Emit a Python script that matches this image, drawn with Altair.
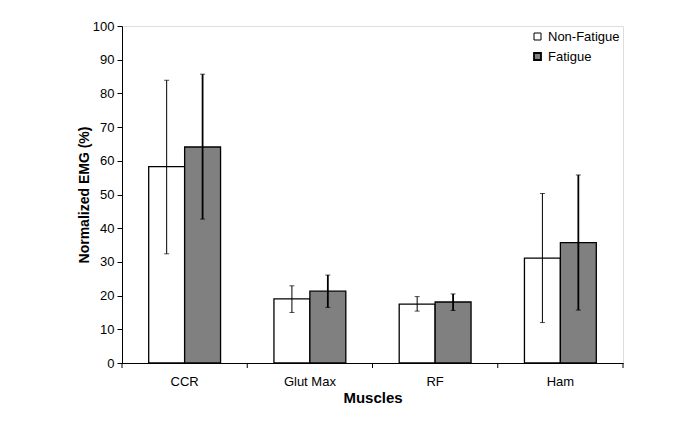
import altair as alt
import pandas as pd

muscles = ["CCR", "Glut Max", "RF", "Ham"]
series = ["Non-Fatigue", "Fatigue"]
non_fatigue = [58.3, 19.0, 17.5, 31.1]
non_fatigue_lo = [32.4, 15.0, 15.4, 12.0]
non_fatigue_hi = [83.9, 22.9, 19.7, 50.3]
fatigue = [64.1, 21.3, 18.1, 35.7]
fatigue_lo = [42.7, 16.5, 15.6, 15.7]
fatigue_hi = [85.7, 26.1, 20.5, 55.8]

rows = []
for i, m in enumerate(muscles):
    rows.append(dict(Muscle=m, Series=series[0], value=non_fatigue[i], lo=non_fatigue_lo[i], hi=non_fatigue_hi[i]))
    rows.append(dict(Muscle=m, Series=series[1], value=fatigue[i], lo=fatigue_lo[i], hi=fatigue_hi[i]))
df = pd.DataFrame(rows)

FONT = "Liberation Sans"
W, H = 501, 337

xscale = alt.Scale(domain=muscles, paddingInner=0, paddingOuter=0)
offscale = alt.Scale(domain=series, paddingInner=0, paddingOuter=0.743)
yscale = alt.Scale(domain=[0, 100], nice=False)

xaxis = alt.Axis(title="Muscles", labelAngle=0, ticks=False, labelPadding=12, labelFontSize=13,
                 labelFont=FONT, titleFont=FONT, titlePadding=2, titleFontSize=15,
                 titleFontWeight="bold", labelColor="black", titleColor="black",
                 domainColor="black", labelOverlap=False)
yaxis = alt.Axis(title="Normalized EMG (%)", values=list(range(0, 101, 10)), tickSize=5,
                 grid=False, titlePadding=1, labelFontSize=13, labelFont=FONT, titleFont=FONT,
                 titleFontSize=14, titleFontWeight="bold", labelColor="black", titleColor="black",
                 domainColor="black", tickColor="black", labelOverlap=False, labelPadding=3)

base = alt.Chart(df)
X = alt.X("Muscle:N", scale=xscale, sort=muscles, axis=xaxis)
XO = alt.XOffset("Series:N", scale=offscale, sort=series)
SW = alt.StrokeWidth("Series:N", scale=alt.Scale(domain=series, range=[1, 1.8]), legend=None)

bars = base.mark_bar(stroke="black", strokeWidth=1.3).encode(
    x=X,
    xOffset=XO,
    y=alt.Y("value:Q", scale=yscale, axis=yaxis),
    fill=alt.Fill("Series:N", sort=series,
                  scale=alt.Scale(domain=series, range=["white", "#808080"]),
                  legend=alt.Legend(title=None, orient="none", legendX=409, legendY=4,
                                    symbolType="square", symbolSize=49, symbolStrokeColor="black",
                                    symbolStrokeWidth=1, labelFontSize=13, rowPadding=5,
                                    labelOffset=4, padding=0, labelFont=FONT, labelColor="black")),
)

errs = base.mark_rule(color="black").encode(
    x=X, xOffset=XO,
    y=alt.Y("lo:Q", scale=yscale, axis=yaxis),
    y2="hi:Q",
    strokeWidth=SW,
)
caps_lo = base.mark_tick(color="black", size=5, orient="horizontal").encode(
    x=X, xOffset=XO, y=alt.Y("lo:Q", scale=yscale, axis=yaxis), strokeWidth=SW,
)
caps_hi = base.mark_tick(color="black", size=5, orient="horizontal").encode(
    x=X, xOffset=XO, y=alt.Y("hi:Q", scale=yscale, axis=yaxis), strokeWidth=SW,
)

ticks_df = pd.DataFrame({"Muscle": muscles})
xticks = alt.Chart(ticks_df).mark_rule(color="black", strokeWidth=1).encode(
    x=alt.X("Muscle:N", scale=xscale, sort=muscles, bandPosition=0, axis=xaxis),
    y=alt.value(H),
    y2=alt.value(H + 5),
)
xtick_end = alt.Chart(ticks_df).transform_filter(alt.datum.Muscle == muscles[-1]).mark_rule(
    color="black", strokeWidth=1).encode(
    x=alt.X("Muscle:N", scale=xscale, sort=muscles, bandPosition=1, axis=xaxis),
    y=alt.value(H),
    y2=alt.value(H + 5),
)

chart = alt.layer(bars, errs, caps_lo, caps_hi, xticks, xtick_end).properties(
    width=W, height=H,
    autosize=alt.AutoSizeParams(type="none"),
    padding={"left": 114, "top": 18, "right": 60, "bottom": 50},
).configure_view(stroke=None).configure(background="white")

chart.save("out.html", embed_options={"renderer": "svg", "actions": False})
